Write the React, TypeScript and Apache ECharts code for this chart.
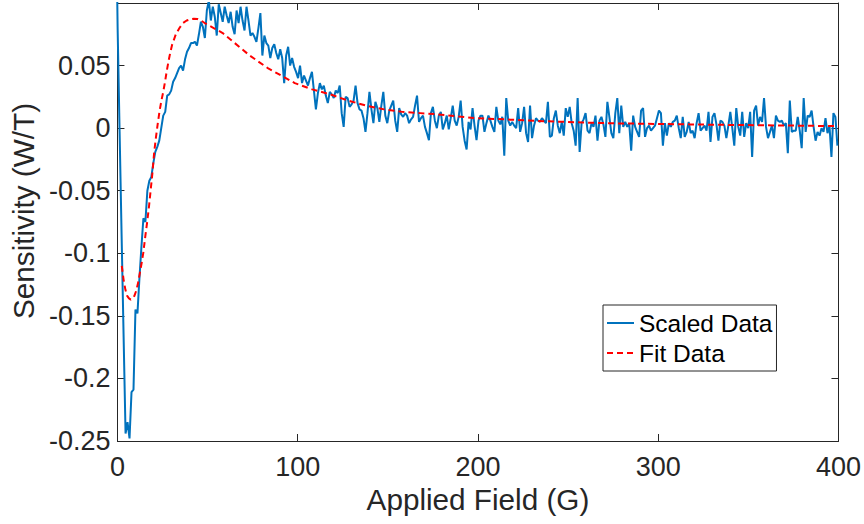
import React, { useEffect, useRef } from "react";
import * as echarts from "echarts";

// ---- data ----
const FIELD_START = -1.0; // G, first sample (clipped by the axis)
const FIELD_STEP = 1.1; // G between samples

const scaledData: number[] = [
  // 0 .. 93
  0.2, 0.08, -0.003, -0.085, -0.165, -0.244, -0.235, -0.248, -0.211, -0.209,
  -0.145, -0.148, -0.12, -0.095, -0.072, -0.075, -0.05, -0.042, -0.039, -0.028,
  -0.019, -0.015, -0.01, 0.0, 0.01, 0.013, 0.026, 0.027, 0.03, 0.037,
  0.04, 0.044, 0.048, 0.05, 0.046, 0.055, 0.061, 0.064, 0.068, 0.068,
  0.069, 0.066, 0.075, 0.085, 0.081, 0.072, 0.094, 0.102, 0.086, 0.097,
  0.089, 0.074, 0.099, 0.092, 0.085, 0.097, 0.09, 0.084, 0.093, 0.081,
  0.075, 0.094, 0.084, 0.097, 0.086, 0.078, 0.097, 0.086, 0.074, 0.076,
  0.073, 0.069, 0.08, 0.092, 0.058, 0.074, 0.068, 0.066, 0.056, 0.064,
  0.067, 0.06, 0.055, 0.063, 0.056, 0.036, 0.058, 0.065, 0.05, 0.056,
  0.049, 0.045, 0.04, 0.05,
  // 94 .. 182
  0.036, 0.042, 0.038, 0.034, 0.04, 0.045, 0.03, 0.015, 0.028, 0.036,
  0.031, 0.034, 0.026, 0.02, 0.029, 0.027, 0.024, 0.03, 0.028, 0.034,
  0.012, 0.001, 0.025, 0.024, 0.017, 0.019, 0.022, 0.034, 0.02, 0.015,
  0.014, 0.008, -0.003, 0.012, 0.029, 0.015, 0.004, 0.021, 0.016, 0.005,
  0.018, 0.029, 0.01, 0.004, 0.014, 0.018, 0.022, 0.006, -0.003, 0.016,
  0.011, 0.009, 0.012, 0.01, 0.004, 0.007, 0.009, 0.018, 0.026, 0.005,
  0.008, 0.01, 0.001, -0.004, -0.0096, 0.012, 0.017, 0.006, 0.0, 0.01,
  0.013, -0.001, 0.004, 0.01, -0.001, 0.008, 0.018, 0.006, 0.002, 0.009,
  0.022, 0.001, -0.01, -0.017, 0.005, -0.001, 0.016, 0.002, -0.0096,
  // 183 .. 273
  0.006, 0.01, 0.01, -0.003, 0.004, 0.01, 0.006, 0.001, -0.003, 0.017,
  0.006, 0.003, 0.009, -0.022, 0.024, 0.006, 0.002, 0.005, 0.002, 0.0,
  0.016, -0.003, 0.004, 0.017, -0.004, -0.011, 0.018, -0.008, 0.002, 0.008,
  0.006, 0.005, 0.008, 0.006, 0.004, 0.021, -0.007, -0.006, 0.008, 0.014,
  0.002, -0.004, 0.005, -0.006, 0.016, 0.009, 0.017, 0.004, -0.002, -0.014,
  0.024, -0.019, 0.004, 0.007, 0.012, -0.002, -0.004, 0.004, 0.001, 0.01,
  -0.01, 0.006, 0.009, 0.003, -0.007, 0.021, 0.009, -0.004, -0.008, 0.012,
  0.024, -0.004, 0.018, 0.001, 0.005, 0.001, 0.004, -0.018, 0.01, 0.001,
  -0.003, -0.007, 0.014, 0.016, -0.007, 0.0, 0.002, -0.002, 0.0, 0.002,
  0.008,
  // 274 .. 364
  0.014, 0.012, -0.014, 0.004, -0.006, 0.004, 0.001, 0.005, 0.006, 0.01,
  0.0, -0.008, 0.009, -0.007, -0.003, 0.005, -0.004, -0.002, -0.008, 0.004,
  0.012, -0.002, 0.0, 0.002, -0.002, 0.013, -0.011, 0.009, 0.012, 0.003,
  -0.01, 0.006, 0.005, 0.002, -0.008, 0.002, 0.013, 0.0, -0.014, 0.016,
  0.001, -0.006, 0.013, -0.007, 0.004, 0.0, 0.013, -0.023, 0.014, 0.018,
  0.002, 0.009, 0.005, 0.024, 0.001, -0.008, -0.003, 0.002, -0.008, 0.01,
  0.006, 0.005, 0.006, 0.002, 0.004, -0.02, 0.022, -0.003, -0.002, -0.002,
  0.009, -0.002, -0.016, 0.024, -0.003, 0.01, 0.009, 0.014, 0.001, -0.01,
  -0.003, -0.006, 0.0, -0.003, 0.008, -0.004, 0.002, -0.023, 0.012, 0.009,
  -0.014,
];

const fitField: number[] = [
  2.4, 3.4, 4.4, 5.4, 6.4, 7.4, 8.4, 9.4, 10.4, 11.4, 12.4, 13.4, 14.4, 15.4,
  16.4, 17.4, 18.4, 19.4, 20.4, 21.4, 22.4, 23.4, 24.4, 25.4, 26.4, 27.4, 28.4,
  29.4, 30.4, 31.4, 32.4, 34.4, 36.4, 38.4, 40.4, 42.4, 44.4, 46.4, 48.4, 53.4,
  58.4, 63.4, 68.4, 73.4, 78.4, 83.4, 88.4, 93.4, 98.4, 108, 118, 128, 138, 148,
  158, 168, 178, 188, 198, 218, 238, 258, 278, 298, 318, 338, 358, 378, 400,
];
const fitValue: number[] = [
  -0.11, -0.121, -0.129, -0.134, -0.136, -0.137, -0.136, -0.134, -0.13, -0.124,
  -0.116, -0.108, -0.099, -0.087, -0.076, -0.064, -0.05, -0.036, -0.019, -0.007,
  0.004, 0.014, 0.022, 0.029, 0.037, 0.046, 0.054, 0.061, 0.067, 0.071, 0.075,
  0.08, 0.084, 0.086, 0.087, 0.0875, 0.0872, 0.086, 0.084,
  0.08, 0.076, 0.07, 0.064, 0.058, 0.053, 0.048, 0.044, 0.04, 0.036,
  0.031, 0.027, 0.022, 0.018, 0.015, 0.013, 0.012, 0.011, 0.0095, 0.008,
  0.0068, 0.0055, 0.0045, 0.0038, 0.0034, 0.003, 0.0026, 0.0023, 0.002,
  0.0016,
];

const xTicks = { min: 0, max: 400, interval: 100 };
const yTicks = { min: -0.25, max: 0.1, interval: 0.05 };

const seriesNames = ["Scaled Data", "Fit Data"];
const axisTitles = { x: "Applied Field (G)", y: "Sensitivity (W/T)" };

// ---- styling ----
const FONT = "'Liberation Sans', Arial, Helvetica, sans-serif";
const INK = "#262626";

export default function App() {
  const ref = useRef<HTMLDivElement>(null);

  useEffect(() => {
    document.body.style.margin = "0";
    const chart = echarts.init(ref.current!, null, { renderer: "svg" });

    const scaledPairs = scaledData.map((v, i) => [
      +(FIELD_START + FIELD_STEP * i).toFixed(2),
      v,
    ]);
    const fitPairs = fitField.map((x, i) => [x, fitValue[i]]);

    const axisLine = { show: true, onZero: false, lineStyle: { color: INK, width: 1 } };
    const tick = { show: true, inside: true, length: 7, lineStyle: { color: INK, width: 1 } };

    const fmtY = (v: number) => {
      if (Math.abs(v - yTicks.max) < 1e-9) return "";
      return String(parseFloat(v.toFixed(2)));
    };

    chart.setOption({
      animation: false,
      backgroundColor: "#ffffff",
      grid: { left: 116, right: 25, top: 3, bottom: 83, containLabel: false },
      legend: {
        data: seriesNames.map((name) => ({ name, itemStyle: { opacity: 0 } })),
        orient: "vertical",
        left: 603,
        top: 305,
        padding: [5, 4, 5, 3],
        itemGap: 4,
        itemWidth: 27,
        itemHeight: 14,
        borderColor: INK,
        borderWidth: 1,
        backgroundColor: "#ffffff",
        itemStyle: { opacity: 0 },
        textStyle: { fontFamily: FONT, fontSize: 24.5, color: "#000", lineHeight: 26 },
      },
      xAxis: [
        {
          type: "value",
          position: "bottom",
          ...xTicks,
          axisLine,
          axisTick: tick,
          splitLine: { show: false },
          axisLabel: { margin: 12, fontFamily: FONT, fontSize: 27, color: INK },
          name: axisTitles.x,
          nameLocation: "middle",
          nameGap: 41,
          nameTextStyle: { fontFamily: FONT, fontSize: 29.7, color: INK },
        },
        {
          type: "value",
          position: "top",
          ...xTicks,
          axisLine,
          axisTick: tick,
          splitLine: { show: false },
          axisLabel: { show: false },
        },
      ],
      yAxis: [
        {
          type: "value",
          position: "left",
          ...yTicks,
          axisLine,
          axisTick: tick,
          splitLine: { show: false },
          axisLabel: { margin: 7, fontFamily: FONT, fontSize: 27, color: INK, formatter: fmtY },
          name: axisTitles.y,
          nameLocation: "middle",
          nameGap: 68,
          nameTextStyle: { fontFamily: FONT, fontSize: 29.7, color: INK, padding: [0, 0, 0, 22] },
        },
        {
          type: "value",
          position: "right",
          ...yTicks,
          axisLine,
          axisTick: tick,
          splitLine: { show: false },
          axisLabel: { show: false },
        },
      ],
      series: [
        {
          name: seriesNames[0],
          type: "line",
          data: scaledPairs,
          showSymbol: false,
          symbol: "none",
          clip: true,
          lineStyle: { color: "#0072BD", width: 2 },
          itemStyle: { color: "#0072BD" },
          z: 2,
        },
        {
          name: seriesNames[1],
          type: "line",
          data: fitPairs,
          showSymbol: false,
          symbol: "none",
          clip: true,
          lineStyle: { color: "#FF0000", width: 2, type: [6, 4] },
          itemStyle: { color: "#FF0000" },
          z: 3,
        },
      ],
    });

    return () => chart.dispose();
  }, []);

  return <div ref={ref} style={{ width: 864, height: 524 }} />;
}
